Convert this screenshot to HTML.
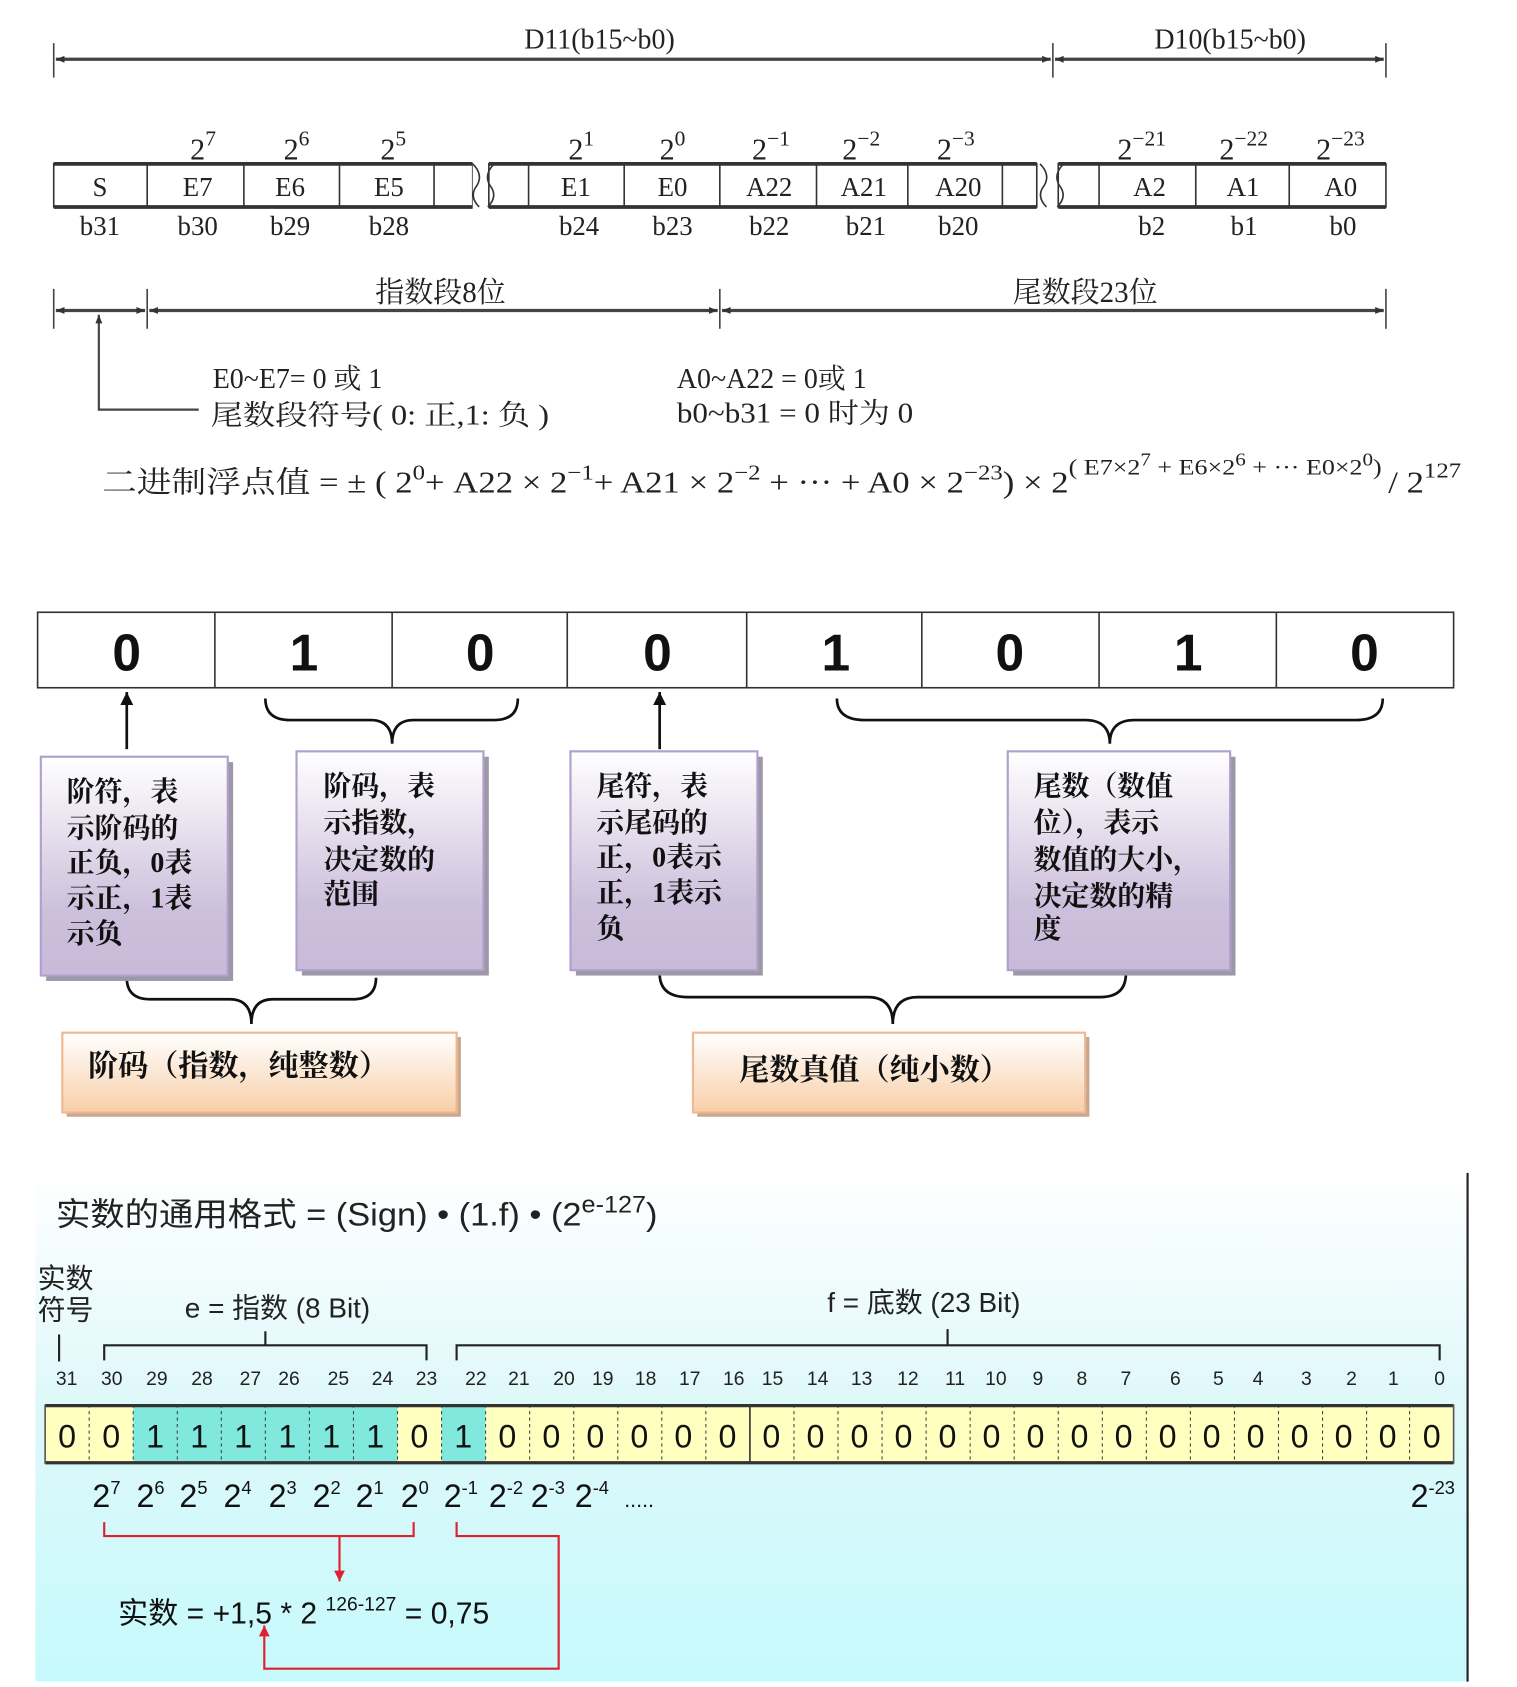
<!DOCTYPE html>
<html><head><meta charset="utf-8"><style>
html,body{margin:0;padding:0;background:#fff;width:1517px;height:1687px;overflow:hidden}
svg{display:block}
.s{font-family:"Liberation Serif","Noto Serif CJK SC",serif;fill:#222}
.a{font-family:"Liberation Sans","Noto Sans CJK SC",sans-serif;fill:#222}
.b{font-family:"Liberation Serif","Noto Serif CJK SC",serif;font-weight:bold;fill:#111}
</style></head><body>
<svg width="1517" height="1687" viewBox="0 0 1412 1565" preserveAspectRatio="none" xmlns="http://www.w3.org/2000/svg">
<defs>
<marker id="ar" viewBox="0 0 10 10" refX="10" refY="5" markerWidth="10" markerHeight="8" orient="auto-start-reverse" markerUnits="userSpaceOnUse"><path d="M0,1 L10,5 L0,9 Z" fill="#333"/></marker>
<marker id="ak" viewBox="0 0 10 10" refX="10" refY="5" markerWidth="14" markerHeight="12" orient="auto" markerUnits="userSpaceOnUse"><path d="M0,0 L10,5 L0,10 Z" fill="#111"/></marker>
<marker id="ared" viewBox="0 0 10 10" refX="10" refY="5" markerWidth="12" markerHeight="10" orient="auto" markerUnits="userSpaceOnUse"><path d="M0,0 L10,5 L0,10 Z" fill="#e02030"/></marker>
<linearGradient id="pg" x1="0" y1="0" x2="0" y2="1"><stop offset="0" stop-color="#ffffff"/><stop offset="0.7" stop-color="#cdc0dc"/><stop offset="1" stop-color="#c8bad8"/></linearGradient>
<linearGradient id="og" x1="0" y1="0" x2="0" y2="1"><stop offset="0" stop-color="#ffffff"/><stop offset="1" stop-color="#f8cfa8"/></linearGradient>
<linearGradient id="cg" x1="0" y1="0" x2="0" y2="1"><stop offset="0" stop-color="#ffffff"/><stop offset="0.45" stop-color="#dff8fa"/><stop offset="1" stop-color="#c6fafc"/></linearGradient>
</defs>

<g stroke="#444" stroke-width="1.5">
<line x1="50" y1="40" x2="50" y2="72"/><line x1="980" y1="40" x2="980" y2="72"/><line x1="1290" y1="40" x2="1290" y2="72"/>
<line x1="52" y1="55" x2="978" y2="55" stroke-width="3" marker-start="url(#ar)" marker-end="url(#ar)"/>
<line x1="982" y1="55" x2="1288" y2="55" stroke-width="3" marker-start="url(#ar)" marker-end="url(#ar)"/>
</g>
<text x="558" y="45" class="s" font-size="26" text-anchor="middle">D11(b15~b0)</text>
<text x="1145" y="45" class="s" font-size="26" text-anchor="middle">D10(b15~b0)</text>

<g fill="#fff" stroke="#333" stroke-width="1.5">
<rect x="50" y="152" width="390" height="40"/>
<rect x="455" y="152" width="510" height="40"/>
<rect x="985" y="152" width="305" height="40"/>
</g>
<g stroke="#333" stroke-width="3.5"><line x1="50" y1="152" x2="440" y2="152"/><line x1="455" y1="152" x2="965" y2="152"/><line x1="985" y1="152" x2="1290" y2="152"/>
<line x1="50" y1="192" x2="440" y2="192"/><line x1="455" y1="192" x2="965" y2="192"/><line x1="985" y1="192" x2="1290" y2="192"/></g>
<g stroke="#fff" stroke-width="14"><line x1="447" y1="148" x2="447" y2="196"/><line x1="975" y1="148" x2="975" y2="196"/></g>
<g fill="none" stroke="#333" stroke-width="1.5">
<path d="M440,152 Q450,162 444,172 Q436,182 446,192"/><path d="M460,152 Q450,162 456,172 Q464,182 454,192"/>
<path d="M968,152 Q978,162 972,172 Q964,182 974,192"/><path d="M990,152 Q980,162 986,172 Q994,182 984,192"/>
</g>
<g stroke="#333" stroke-width="1.5">
<line x1="137" y1="152" x2="137" y2="192"/><line x1="227" y1="152" x2="227" y2="192"/><line x1="316" y1="152" x2="316" y2="192"/><line x1="404" y1="152" x2="404" y2="192"/>
<line x1="492" y1="152" x2="492" y2="192"/><line x1="581" y1="152" x2="581" y2="192"/><line x1="670" y1="152" x2="670" y2="192"/><line x1="760" y1="152" x2="760" y2="192"/><line x1="845" y1="152" x2="845" y2="192"/><line x1="933" y1="152" x2="933" y2="192"/>
<line x1="1023" y1="152" x2="1023" y2="192"/><line x1="1113" y1="152" x2="1113" y2="192"/><line x1="1200" y1="152" x2="1200" y2="192"/>
</g>
<g class="s" font-size="25" text-anchor="middle">
<text x="93" y="182">S</text><text x="184" y="182">E7</text><text x="270" y="182">E6</text><text x="362" y="182">E5</text>
<text x="536" y="182">E1</text><text x="626" y="182">E0</text><text x="716" y="182">A22</text><text x="804" y="182">A21</text><text x="892" y="182">A20</text>
<text x="1070" y="182">A2</text><text x="1157" y="182">A1</text><text x="1248" y="182">A0</text>
<text x="93" y="218">b31</text><text x="184" y="218">b30</text><text x="270" y="218">b29</text><text x="362" y="218">b28</text>
<text x="539" y="218">b24</text><text x="626" y="218">b23</text><text x="716" y="218">b22</text><text x="806" y="218">b21</text><text x="892" y="218">b20</text>
<text x="1072" y="218">b2</text><text x="1158" y="218">b1</text><text x="1250" y="218">b0</text>
</g>
<g class="s" font-size="28">
<text x="177" y="148">2<tspan font-size="20" dy="-13">7</tspan></text>
<text x="264" y="148">2<tspan font-size="20" dy="-13">6</tspan></text>
<text x="354" y="148">2<tspan font-size="20" dy="-13">5</tspan></text>
<text x="529" y="148">2<tspan font-size="20" dy="-13">1</tspan></text>
<text x="614" y="148">2<tspan font-size="20" dy="-13">0</tspan></text>
<text x="700" y="148">2<tspan font-size="20" dy="-13">−1</tspan></text>
<text x="784" y="148">2<tspan font-size="20" dy="-13">−2</tspan></text>
<text x="872" y="148">2<tspan font-size="20" dy="-13">−3</tspan></text>
<text x="1040" y="148">2<tspan font-size="20" dy="-13">−21</tspan></text>
<text x="1135" y="148">2<tspan font-size="20" dy="-13">−22</tspan></text>
<text x="1225" y="148">2<tspan font-size="20" dy="-13">−23</tspan></text>
</g>

<g stroke="#444" stroke-width="1.5">
<line x1="50" y1="268" x2="50" y2="305"/><line x1="137" y1="268" x2="137" y2="305"/><line x1="670" y1="268" x2="670" y2="305"/><line x1="1290" y1="268" x2="1290" y2="305"/>
<line x1="52" y1="288" x2="135" y2="288" stroke-width="3" marker-start="url(#ar)" marker-end="url(#ar)"/>
<line x1="139" y1="288" x2="668" y2="288" stroke-width="3" marker-start="url(#ar)" marker-end="url(#ar)"/>
<line x1="672" y1="288" x2="1288" y2="288" stroke-width="3" marker-start="url(#ar)" marker-end="url(#ar)"/>
<polyline points="185,380 92,380 92,292" fill="none" stroke-width="2" marker-end="url(#ar)"/>
</g>
<text x="410" y="280" class="s" font-size="27" text-anchor="middle">指数段8位</text>
<text x="1010" y="280" class="s" font-size="27" text-anchor="middle">尾数段23位</text>
<g class="s" font-size="26">
<text x="198" y="360">E0~E7= 0 或 1</text>
<text x="196" y="394" textLength="315" lengthAdjust="spacingAndGlyphs">尾数段符号( 0: 正,1: 负 )</text>
<text x="630" y="360">A0~A22 = 0或 1</text>
<text x="630" y="392" textLength="220" lengthAdjust="spacingAndGlyphs">b0~b31 = 0 时为 0</text>
<text x="95" y="457" font-size="28" textLength="1265" lengthAdjust="spacingAndGlyphs">二进制浮点值 = ± ( 2<tspan font-size="20" dy="-12">0</tspan><tspan dy="12">+ A22 × 2</tspan><tspan font-size="20" dy="-12">−1</tspan><tspan dy="12">+ A21 × 2</tspan><tspan font-size="20" dy="-12">−2</tspan><tspan dy="12"> + ··· + A0 × 2</tspan><tspan font-size="20" dy="-12">−23</tspan><tspan dy="12">) × 2</tspan><tspan font-size="21" dy="-17">( E7×2</tspan><tspan font-size="17" dy="-8">7</tspan><tspan font-size="21" dy="8"> + E6×2</tspan><tspan font-size="17" dy="-8">6</tspan><tspan font-size="21" dy="8"> + ··· E0×2</tspan><tspan font-size="17" dy="-8">0</tspan><tspan font-size="21" dy="8">) </tspan><tspan dy="17">/ 2</tspan><tspan font-size="20" dy="-14">127</tspan></text>
</g>

<rect x="35" y="568" width="1318" height="70" fill="#fff" stroke="#333" stroke-width="1.5"/>
<g stroke="#333" stroke-width="1.5">
<line x1="200" y1="568" x2="200" y2="638"/><line x1="365" y1="568" x2="365" y2="638"/><line x1="528" y1="568" x2="528" y2="638"/><line x1="695" y1="568" x2="695" y2="638"/><line x1="858" y1="568" x2="858" y2="638"/><line x1="1023" y1="568" x2="1023" y2="638"/><line x1="1188" y1="568" x2="1188" y2="638"/>
</g>
<g class="a" font-size="48" text-anchor="middle" font-weight="bold" style="fill:#111">
<text x="118" y="622">0</text><text x="283" y="622">1</text><text x="447" y="622">0</text><text x="612" y="622">0</text><text x="778" y="622">1</text><text x="940" y="622">0</text><text x="1106" y="622">1</text><text x="1270" y="622">0</text>
</g>
<g stroke="#111" stroke-width="2.5" fill="none">
<line x1="118" y1="695" x2="118" y2="642" marker-end="url(#ak)"/>
<line x1="614" y1="695" x2="614" y2="642" marker-end="url(#ak)"/>
<path d="M247,648 Q247,668 270,668 L345,668 Q365,668 365,690 Q365,668 385,668 L460,668 Q482,668 482,648"/>
<path d="M779,648 Q779,668 805,668 L1010,668 Q1033,668 1033,690 Q1033,668 1056,668 L1262,668 Q1287,668 1287,648"/>
<path d="M118,907 Q118,927 140,927 L214,927 Q234,927 234,950 Q234,927 254,927 L328,927 Q350,927 350,907"/>
<path d="M614,903 Q614,925 640,925 L808,925 Q831,925 831,950 Q831,925 854,925 L1024,925 Q1048,925 1048,903"/>
</g>
<g>
<rect x="43" y="707" width="174" height="203" fill="#9c98a8"/>
<rect x="38" y="702" width="174" height="203" fill="url(#pg)" stroke="#b0a0cc" stroke-width="2"/>
<rect x="281" y="702" width="174" height="203" fill="#9c98a8"/>
<rect x="276" y="697" width="174" height="203" fill="url(#pg)" stroke="#b0a0cc" stroke-width="2"/>
<rect x="536" y="702" width="174" height="203" fill="#9c98a8"/>
<rect x="531" y="697" width="174" height="203" fill="url(#pg)" stroke="#b0a0cc" stroke-width="2"/>
<rect x="943" y="702" width="207" height="203" fill="#9c98a8"/>
<rect x="938" y="697" width="207" height="203" fill="url(#pg)" stroke="#b0a0cc" stroke-width="2"/>
</g>
<g class="b" font-size="26">
<text x="62" y="743">阶符，表</text><text x="62" y="777">示阶码的</text><text x="62" y="809">正负，0表</text><text x="62" y="842">示正，1表</text><text x="62" y="875">示负</text>
<text x="301" y="738">阶码，表</text><text x="301" y="772">示指数，</text><text x="301" y="806">决定数的</text><text x="301" y="838">范围</text>
<text x="555" y="738">尾符，表</text><text x="555" y="772">示尾码的</text><text x="555" y="804">正，0表示</text><text x="555" y="837">正，1表示</text><text x="555" y="870">负</text>
<text x="962" y="738">尾数（数值</text><text x="962" y="772">位），表示</text><text x="962" y="806">数值的大小，</text><text x="962" y="840">决定数的精</text><text x="962" y="870">度</text>
</g>
<rect x="62" y="962" width="367" height="74" fill="#c8a890"/>
<rect x="58" y="958" width="367" height="74" fill="url(#og)" stroke="#f0b890" stroke-width="2"/>
<rect x="649" y="962" width="365" height="74" fill="#c8a890"/>
<rect x="645" y="958" width="365" height="74" fill="url(#og)" stroke="#f0b890" stroke-width="2"/>
<text x="82" y="998" class="b" font-size="28">阶码（指数，纯整数）</text>
<text x="688" y="1002" class="b" font-size="28">尾数真值（纯小数）</text>

<rect x="33" y="1088" width="1333" height="472" fill="url(#cg)"/>
<line x1="1366" y1="1088" x2="1366" y2="1560" stroke="#222" stroke-width="2"/>
<text x="52" y="1137" class="a" font-size="30" textLength="560" lengthAdjust="spacingAndGlyphs">实数的通用格式 = (Sign) • (1.f) • (2<tspan font-size="22" dy="-12">e-127</tspan><tspan dy="12">)</tspan></text>
<text x="35" y="1195" class="a" font-size="26">实数</text>
<text x="35" y="1224" class="a" font-size="26">符号</text>
<text x="172" y="1222" class="a" font-size="26">e = 指数 (8 Bit)</text>
<text x="770" y="1217" class="a" font-size="26">f = 底数 (23 Bit)</text>
<g stroke="#222" stroke-width="2" fill="none">
<line x1="55" y1="1238" x2="55" y2="1263"/>
<polyline points="97,1262 97,1248 397,1248 397,1262"/><line x1="247" y1="1235" x2="247" y2="1248"/>
<polyline points="425,1262 425,1248 1340,1248 1340,1262"/><line x1="882" y1="1233" x2="882" y2="1248"/>
</g>
<g class="a" font-size="18" text-anchor="middle">
<text x="62" y="1285">31</text><text x="104" y="1285">30</text><text x="146" y="1285">29</text><text x="188" y="1285">28</text><text x="233" y="1285">27</text><text x="269" y="1285">26</text><text x="315" y="1285">25</text><text x="356" y="1285">24</text><text x="397" y="1285">23</text><text x="443" y="1285">22</text><text x="483" y="1285">21</text><text x="525" y="1285">20</text><text x="561" y="1285">19</text><text x="601" y="1285">18</text><text x="642" y="1285">17</text><text x="683" y="1285">16</text><text x="719" y="1285">15</text><text x="761" y="1285">14</text><text x="802" y="1285">13</text><text x="845" y="1285">12</text><text x="889" y="1285">11</text><text x="927" y="1285">10</text><text x="966" y="1285">9</text><text x="1007" y="1285">8</text><text x="1048" y="1285">7</text><text x="1094" y="1285">6</text><text x="1134" y="1285">5</text><text x="1171" y="1285">4</text><text x="1216" y="1285">3</text><text x="1258" y="1285">2</text><text x="1297" y="1285">1</text><text x="1340" y="1285">0</text>
</g>
<rect x="42" y="1303" width="1311" height="55" fill="#ffffc0"/>
<rect x="124" y="1303" width="246" height="55" fill="#80e8dc"/>
<rect x="411" y="1303" width="41" height="55" fill="#80e8dc"/>
<g stroke="#444" stroke-width="1" stroke-dasharray="3,3">
<line x1="83" y1="1303" x2="83" y2="1358"/><line x1="124" y1="1303" x2="124" y2="1358"/><line x1="165" y1="1303" x2="165" y2="1358"/><line x1="206" y1="1303" x2="206" y2="1358"/><line x1="247" y1="1303" x2="247" y2="1358"/><line x1="288" y1="1303" x2="288" y2="1358"/><line x1="329" y1="1303" x2="329" y2="1358"/><line x1="370" y1="1303" x2="370" y2="1358"/><line x1="411" y1="1303" x2="411" y2="1358"/><line x1="452" y1="1303" x2="452" y2="1358"/><line x1="493" y1="1303" x2="493" y2="1358"/><line x1="534" y1="1303" x2="534" y2="1358"/><line x1="575" y1="1303" x2="575" y2="1358"/><line x1="616" y1="1303" x2="616" y2="1358"/><line x1="657" y1="1303" x2="657" y2="1358"/>
<line x1="739" y1="1303" x2="739" y2="1358"/><line x1="780" y1="1303" x2="780" y2="1358"/><line x1="821" y1="1303" x2="821" y2="1358"/><line x1="862" y1="1303" x2="862" y2="1358"/><line x1="903" y1="1303" x2="903" y2="1358"/><line x1="944" y1="1303" x2="944" y2="1358"/><line x1="985" y1="1303" x2="985" y2="1358"/><line x1="1026" y1="1303" x2="1026" y2="1358"/><line x1="1067" y1="1303" x2="1067" y2="1358"/><line x1="1108" y1="1303" x2="1108" y2="1358"/><line x1="1149" y1="1303" x2="1149" y2="1358"/><line x1="1190" y1="1303" x2="1190" y2="1358"/><line x1="1231" y1="1303" x2="1231" y2="1358"/><line x1="1272" y1="1303" x2="1272" y2="1358"/><line x1="1312" y1="1303" x2="1312" y2="1358"/>
</g>
<line x1="698" y1="1303" x2="698" y2="1358" stroke="#333" stroke-width="1.5"/>
<g stroke="#333" stroke-width="3"><line x1="42" y1="1304" x2="1353" y2="1304"/><line x1="42" y1="1357" x2="1353" y2="1357"/></g>
<g stroke="#555" stroke-width="1.5"><line x1="42" y1="1303" x2="42" y2="1358"/><line x1="1353" y1="1303" x2="1353" y2="1358"/></g>
<g class="a" font-size="30" text-anchor="middle" style="fill:#111">
<text x="62.5" y="1343">0</text><text x="103.5" y="1343">0</text><text x="144.4" y="1343">1</text><text x="185.4" y="1343">1</text><text x="226.4" y="1343">1</text><text x="267.4" y="1343">1</text><text x="308.3" y="1343">1</text><text x="349.3" y="1343">1</text><text x="390.3" y="1343">0</text><text x="431.2" y="1343">1</text><text x="472.2" y="1343">0</text><text x="513.2" y="1343">0</text><text x="554.1" y="1343">0</text><text x="595.1" y="1343">0</text><text x="636.1" y="1343">0</text><text x="677.1" y="1343">0</text><text x="718" y="1343">0</text><text x="759" y="1343">0</text><text x="800" y="1343">0</text><text x="840.9" y="1343">0</text><text x="881.9" y="1343">0</text><text x="922.9" y="1343">0</text><text x="963.8" y="1343">0</text><text x="1004.8" y="1343">0</text><text x="1045.8" y="1343">0</text><text x="1086.8" y="1343">0</text><text x="1127.7" y="1343">0</text><text x="1168.7" y="1343">0</text><text x="1209.7" y="1343">0</text><text x="1250.6" y="1343">0</text><text x="1291.6" y="1343">0</text><text x="1332.6" y="1343">0</text>
</g>
<g class="a" font-size="30" style="fill:#111">
<text x="86" y="1398">2<tspan font-size="17" dy="-12">7</tspan></text>
<text x="127" y="1398">2<tspan font-size="17" dy="-12">6</tspan></text>
<text x="167" y="1398">2<tspan font-size="17" dy="-12">5</tspan></text>
<text x="208" y="1398">2<tspan font-size="17" dy="-12">4</tspan></text>
<text x="250" y="1398">2<tspan font-size="17" dy="-12">3</tspan></text>
<text x="291" y="1398">2<tspan font-size="17" dy="-12">2</tspan></text>
<text x="331" y="1398">2<tspan font-size="17" dy="-12">1</tspan></text>
<text x="373" y="1398">2<tspan font-size="17" dy="-12">0</tspan></text>
<text x="413" y="1398">2<tspan font-size="17" dy="-12">-1</tspan></text>
<text x="455" y="1398">2<tspan font-size="17" dy="-12">-2</tspan></text>
<text x="494" y="1398">2<tspan font-size="17" dy="-12">-3</tspan></text>
<text x="535" y="1398">2<tspan font-size="17" dy="-12">-4</tspan></text>
<text x="581" y="1398" font-size="20">.....</text>
<text x="1313" y="1398">2<tspan font-size="17" dy="-12">-23</tspan></text>
</g>
<g stroke="#e02030" stroke-width="2" fill="none">
<polyline points="97,1412 97,1425 385,1425 385,1412"/>
<line x1="316" y1="1425" x2="316" y2="1467" marker-end="url(#ared)"/>
<polyline points="425,1412 425,1425 520,1425 520,1548 246,1548 246,1508" marker-end="url(#ared)"/>
</g>
<text x="110" y="1506" class="a" font-size="28" style="fill:#111">实数 = +1,5 * 2 <tspan font-size="18" dy="-12">126-127</tspan><tspan dy="12"> = 0,75</tspan></text>
</svg>
</body></html>
